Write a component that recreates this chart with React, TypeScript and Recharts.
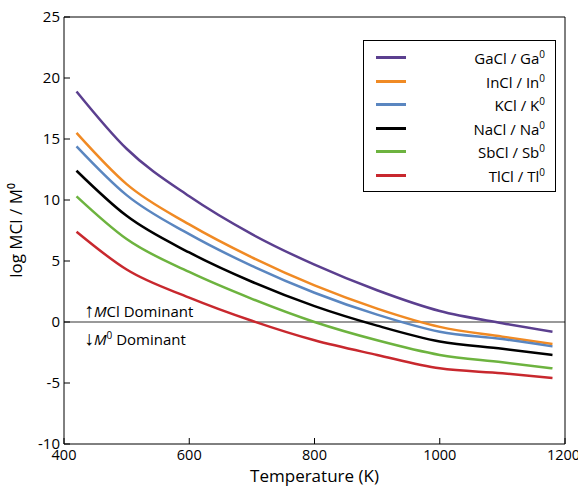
import React from 'react'
import { LineChart, Line, XAxis, YAxis, ReferenceLine } from 'recharts'

const temps = [420, 500, 600, 700, 800, 900, 1000, 1100, 1180]
const gaCl = [18.9, 14.2, 10.3, 7.2, 4.7, 2.6, 0.9, -0.1, -0.8]
const inCl = [15.5, 11.3, 8.0, 5.3, 3.0, 1.1, -0.4, -1.2, -1.8]
const kCl = [14.4, 10.4, 7.2, 4.6, 2.4, 0.6, -0.8, -1.4, -2.0]
const naCl = [12.4, 8.7, 5.7, 3.3, 1.3, -0.3, -1.6, -2.2, -2.7]
const sbCl = [10.3, 6.8, 4.1, 1.9, 0.0, -1.5, -2.7, -3.3, -3.8]
const tlCl = [7.4, 4.3, 2.0, 0.1, -1.5, -2.7, -3.8, -4.2, -4.6]

const series = [
  { key: 'ga', name: 'GaCl', el: 'Ga', color: '#5b3f8f', values: gaCl },
  { key: 'in', name: 'InCl', el: 'In', color: '#f08a24', values: inCl },
  { key: 'k', name: 'KCl', el: 'K', color: '#5a86c0', values: kCl },
  { key: 'na', name: 'NaCl', el: 'Na', color: '#000000', values: naCl },
  { key: 'sb', name: 'SbCl', el: 'Sb', color: '#6db33f', values: sbCl },
  { key: 'tl', name: 'TlCl', el: 'Tl', color: '#c8282e', values: tlCl },
]

const yTicks = [-10, -5, 0, 5, 10, 15, 20, 25]

const data = temps.map((t, i) => {
  const row: Record<string, number> = { t }
  series.forEach(s => { row[s.key] = s.values[i] })
  return row
})

const font = '"Open Sans", "Noto Sans", sans-serif'

export default function App() {
  return (
    <div style={{ position: 'absolute', left: 0, top: 0, width: 578, height: 498, fontFamily: font, background: '#fff' }}>
      <LineChart width={578} height={498} data={data} margin={{ top: 17, right: 12, bottom: 14, left: 4 }}>
        <XAxis
          dataKey="t"
          type="number"
          domain={[400, 1200]}
          ticks={[400, 600, 800, 1000, 1200]}
          tickSize={-6}
          stroke="#000"
          tick={{ fill: '#000', fontSize: 14.5, dy: 10 }}
          label={{ value: 'Temperature (K)', position: 'insideBottom', offset: 2, fill: '#000', fontSize: 17 }}
          height={40}
        />
        <YAxis
          type="number"
          domain={[-10, 25]}
          ticks={yTicks}
          tickSize={-6}
          stroke="#000"
          tick={{ fill: '#000', fontSize: 15, dx: -8 }}
          width={60}
          label={{ value: 'log MCl / M⁰', angle: -90, position: 'insideLeft', offset: 12, fill: '#000', fontSize: 17, style: { textAnchor: 'middle' } }}
        />
        <YAxis
          yAxisId="right"
          orientation="right"
          type="number"
          domain={[-10, 25]}
          ticks={yTicks}
          tickFormatter={() => ''}
          tickSize={-6}
          stroke="#000"
          width={1}
        />
        <ReferenceLine y={0} stroke="#999" strokeWidth={2} />
        {series.map(s => (
          <Line key={s.key} dataKey={s.key} type="monotone" stroke={s.color} strokeWidth={2.5} dot={false} isAnimationActive={false} />
        ))}
        <ReferenceLine y={25} stroke="#000" />
      </LineChart>
      <div style={{ position: 'absolute', left: 363, top: 40, width: 193, height: 152, border: '1px solid #000', boxSizing: 'border-box', padding: '5px 10px 5px 12px' }}>
        {series.map(s => (
          <div key={s.key} style={{ display: 'flex', alignItems: 'center', height: 23.5, fontSize: 15 }}>
            <div style={{ width: 30, height: 3, background: s.color }} />
            <div style={{ flex: 1, textAlign: 'right' }}>
              {s.name} / {s.el}<sup style={{ fontSize: 10 }}>0</sup>
            </div>
          </div>
        ))}
      </div>
      <div style={{ position: 'absolute', left: 84, top: 298, fontSize: 15, lineHeight: '24px' }}>
        <div><span style={{ fontSize: 20 }}>↑</span><i>M</i>Cl Dominant</div>
        <div><span style={{ fontSize: 20 }}>↓</span><i>M</i><sup style={{ fontSize: 10 }}>0</sup> Dominant</div>
      </div>
    </div>
  )
}
